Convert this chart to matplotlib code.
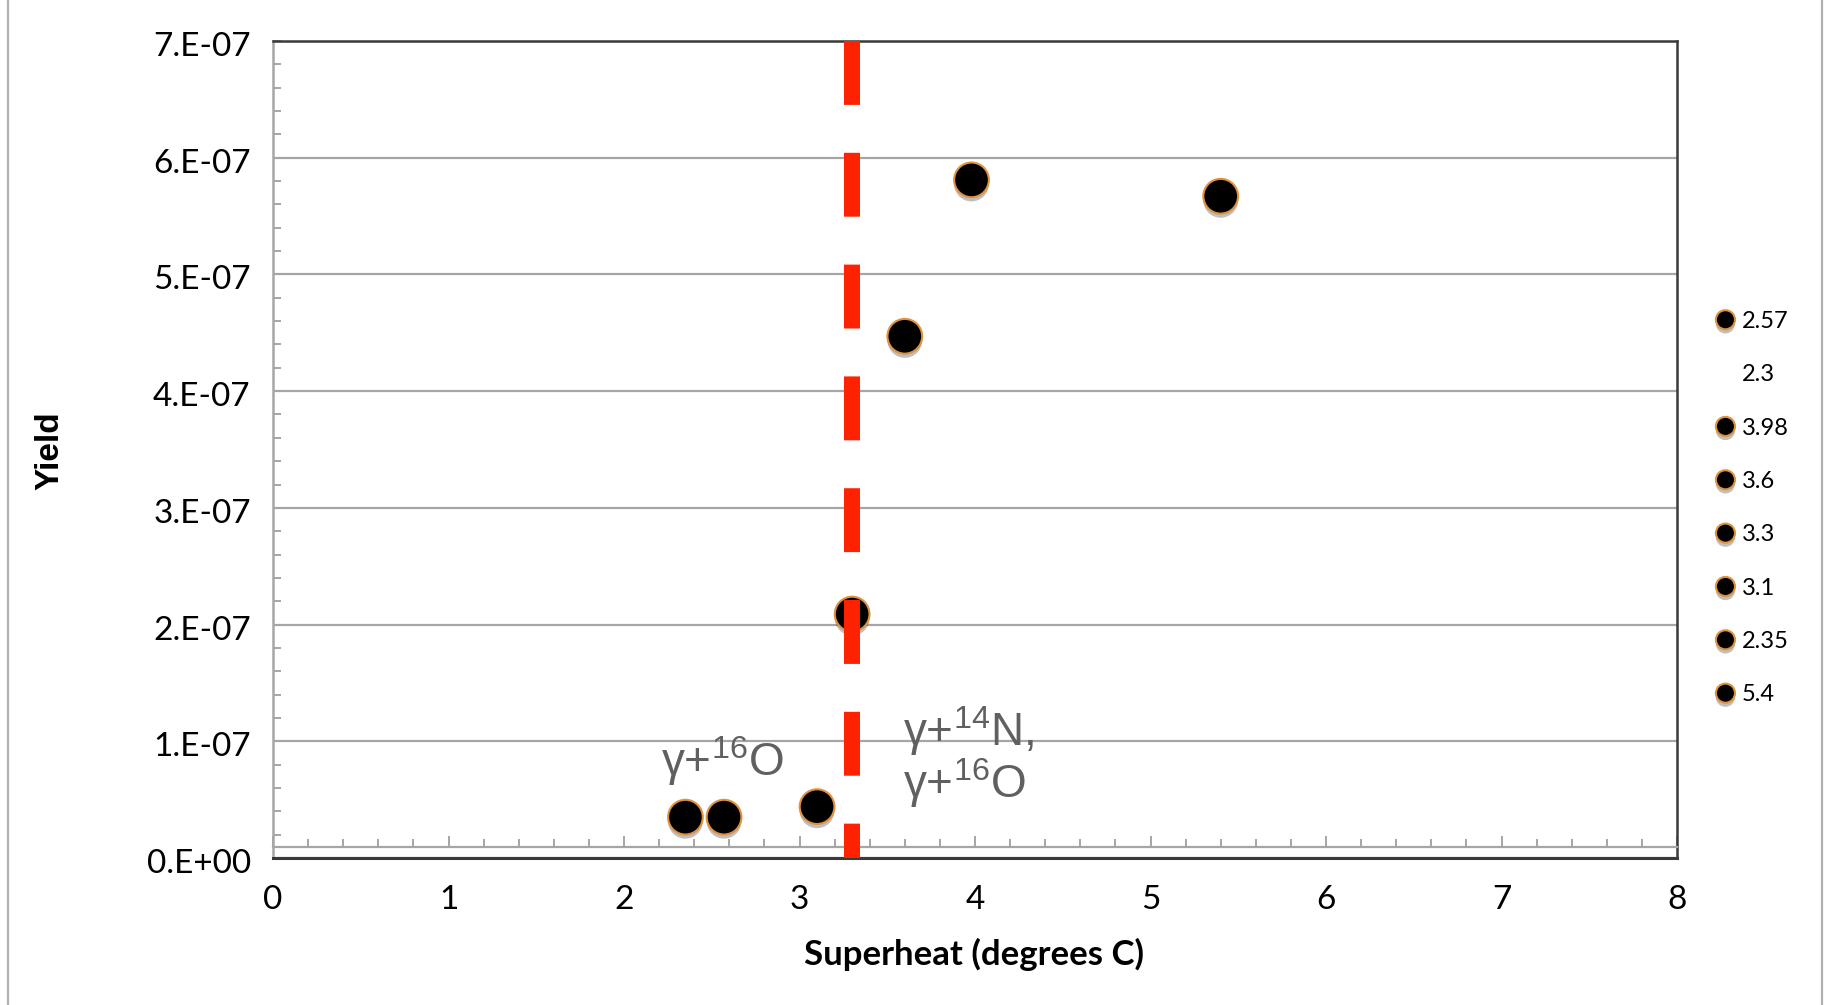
import matplotlib
matplotlib.use("Agg")
import matplotlib.pyplot as plt
import matplotlib.patheffects as pe
import matplotlib.transforms as mtransforms
from matplotlib.ticker import MultipleLocator, FuncFormatter
from matplotlib.patches import Rectangle

# ==================================
# DATA
# ==================================

series_names = ['2.57', '2.3', '3.98', '3.6', '3.3', '3.1', '2.35', '5.4']
superheat = [2.57, None, 3.98, 3.60, 3.30, 3.10, 2.35, 5.40]
yield_vals = [3.5e-8, None, 5.81e-7, 4.47e-7, 2.09e-7, 4.4e-8, 3.5e-8, 5.67e-7]

threshold_x = 3.3
axis_cross_y = 9.4e-9

# ==================================
# STYLE
# ==================================

plt.rcParams['mathtext.fontset'] = 'custom'
plt.rcParams['mathtext.rm'] = 'Liberation Sans'
plt.rcParams['mathtext.it'] = 'Liberation Sans:italic'

TICK_FONT = 'Lato'
GRID_GRAY = '#A6A6A6'
DARK = '#3A3A3A'
EDGE_ORANGE = '#E0913C'

fig = plt.figure(figsize=(18.29, 10.05), dpi=100)
ax = fig.add_axes([273 / 1829, 1 - 858 / 1005, (1677 - 273) / 1829, (858 - 41) / 1005])

# chart area border
fig.patches.append(Rectangle((8 / 1829, -0.02), (1822 - 8) / 1829, 1.04,
                             transform=fig.transFigure, fill=False,
                             edgecolor='#B0B0B0', linewidth=1.6))

# ==================================
# POINTS
# ==================================

shadow = [pe.SimplePatchShadow(offset=(0, -3), shadow_rgbFace='black', alpha=0.25),
          pe.Normal()]

for name, x, y in zip(series_names, superheat, yield_vals):
    if x is None:
        ax.plot([], [], ls='none', marker='none', label=name)
        continue
    ax.plot([x], [y], ls='none', marker='o', markersize=25,
            markerfacecolor='black', markeredgecolor=EDGE_ORANGE,
            markeredgewidth=1.5, label=name, zorder=4, path_effects=shadow)

# threshold line
ax.plot([threshold_x, threshold_x], [7e-7, 0], color='#FF2200',
        linewidth=11.5, dashes=(4, 3), solid_capstyle='butt',
        dash_capstyle='butt', zorder=5)

# ==================================
# AXES
# ==================================

ax.set_xlim(0, 8)
ax.set_ylim(0, 7e-7)

ax.xaxis.set_major_locator(MultipleLocator(1))
ax.xaxis.set_minor_locator(MultipleLocator(0.2))
ax.yaxis.set_major_locator(MultipleLocator(1e-7))
ax.yaxis.set_minor_locator(MultipleLocator(2e-8))
ax.yaxis.set_major_formatter(FuncFormatter(lambda v, p: '{:#.0E}'.format(v)))

ax.grid(axis='y', which='major', color=GRID_GRAY, linewidth=1.6)
ax.set_axisbelow(True)

ax.spines['bottom'].set_position(('data', axis_cross_y))
ax.spines['bottom'].set_color(GRID_GRAY)
ax.spines['bottom'].set_linewidth(1.6)
ax.spines['left'].set_color(GRID_GRAY)
ax.spines['left'].set_linewidth(1.8)
for s in ['top', 'right']:
    ax.spines[s].set_color(DARK)
    ax.spines[s].set_linewidth(1.8)
ax.axhline(0, color=DARK, linewidth=2.2, clip_on=False, zorder=3)

ax.tick_params(axis='x', which='major', direction='in', length=8, width=1.4,
               color=GRID_GRAY, labelsize=24, pad=27)
ax.tick_params(axis='x', which='minor', direction='in', length=5.5, width=1.4,
               color=GRID_GRAY)
ax.tick_params(axis='y', which='major', direction='in', length=6, width=1.4,
               color=GRID_GRAY, labelsize=24, pad=16)
ax.tick_params(axis='y', which='minor', direction='in', length=6, width=1.4,
               color=GRID_GRAY)

# y labels sit a few pixels below their gridlines in the original
shift_down = mtransforms.ScaledTranslation(0, -3 / 100, fig.dpi_scale_trans)
for lab in ax.get_yticklabels():
    lab.set_fontfamily(TICK_FONT)
    lab.set_transform(lab.get_transform() + shift_down)
for lab in ax.get_xticklabels():
    lab.set_fontfamily(TICK_FONT)

fig.text(50 / 1829, 1 - 451 / 1005, 'Yield', rotation=90, ha='center', va='center',
         fontsize=24, fontweight='bold', family='Liberation Sans')
fig.text(974 / 1829, 1 - 954 / 1005, 'Superheat (degrees C)', ha='center', va='center',
         fontsize=25, fontweight='bold', family=TICK_FONT)

# ==================================
# ANNOTATIONS
# ==================================

note_color = '#606060'
ax.text(2.21, 7.0e-8, 'γ+$^{16}$O', fontsize=33, color=note_color,
        family='Liberation Sans', ha='left', va='baseline', zorder=6)
ax.text(3.59, 9.6e-8, 'γ+$^{14}$N,', fontsize=33, color=note_color,
        family='Liberation Sans', ha='left', va='baseline', zorder=6)
ax.text(3.59, 5.1e-8, 'γ+$^{16}$O', fontsize=33, color=note_color,
        family='Liberation Sans', ha='left', va='baseline', zorder=6)

# ==================================
# LEGEND
# ==================================

leg = ax.legend(loc='upper left', bbox_to_anchor=(1716 / 1829, 1 - 311 / 1005),
                bbox_transform=fig.transFigure, frameon=False, markerscale=0.55,
                prop={'family': TICK_FONT, 'size': 17}, labelspacing=1.37,
                handlelength=0.8, handletextpad=0.3, borderpad=0, borderaxespad=0)

plt.savefig('out.png', dpi=100)
